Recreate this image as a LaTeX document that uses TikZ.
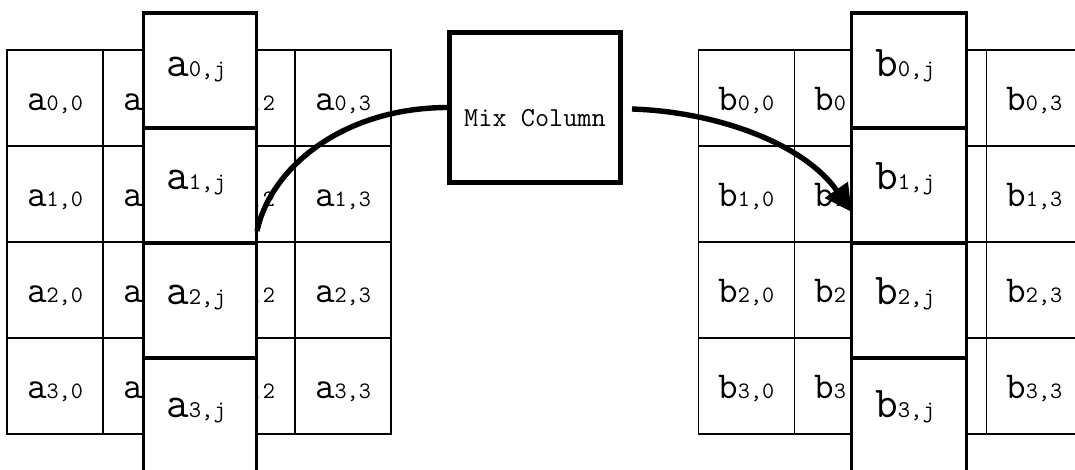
\documentclass[tikz,border=0pt]{standalone}
\usepackage{fontspec}
\usetikzlibrary{arrows.meta}
\newcommand\mylbl[5]{{\fontsize{#4bp}{#4bp}\selectfont #1}{\fontsize{#5bp}{#5bp}\selectfont #2,#3}}
\begin{document}
\begin{tikzpicture}[x=1bp,y=-1bp,
  cell/.style={draw,line width=1.4bp,minimum width=96bp,minimum height=96bp,inner sep=0pt,text height=26bp,text depth=0pt,font=\ttfamily},
  colbox/.style={draw,fill=white,line width=3.4bp,inner sep=0pt,minimum height=115bp},
  collbl/.style={anchor=base,inner sep=0pt,font=\ttfamily},
  mixbox/.style={draw,line width=4.8bp,minimum width=171bp,minimum height=150bp,inner sep=0pt,text height=39bp,text depth=0pt,font={\ttfamily\fontsize{27.5bp}{27.5bp}\selectfont}},
  flow/.style={line width=5.4bp}]
\useasboundingbox (0,0) rectangle (1075,470);
\clip (0,0) rectangle (1075,470);
% grids
\foreach \r in {0,...,3}{
  \foreach \c in {0,...,3}{
    \node[cell] (a\r\c) at ({55+96*\c},{98+96*\r}) {\mylbl{a}{\r}{\c}{38}{23.5}};
    \node[cell] (b\r\c) at ({746.3+96*\c},{98+96*\r}) {\mylbl{b}{\r}{\c}{38}{23.5}};
  }
}
% highlighted columns
\foreach \r/\cy/\by in {0/70.5/77,1/185.5/190,2/300.5/305,3/415.5/418}{
  \node[colbox,minimum width=113.4bp] (a\r j) at (200,\cy) {};
  \node[collbl] (ta\r j) at (196,\by) {\mylbl{a}{\r}{j}{44}{24}};
  \node[colbox,minimum width=115bp] (b\r j) at (909.2,\cy) {};
  \node[collbl] (tb\r j) at (905,\by) {\mylbl{b}{\r}{j}{44}{24}};
}
% mix column
\node[mixbox] (mix) at (535,107.5) {Mix Column};
\coordinate (c1) at (257,231);
\coordinate (c2) at (632,109);
\coordinate (c3) at (851.7,212);
\draw[flow] (mix.west) .. controls (340,108) and (270,170) .. (c1);
\draw[flow,-{Triangle[length=27bp,width=27bp]}] (c2) .. controls (720,112) and (805,145) .. (c3);
\end{tikzpicture}
\end{document}
